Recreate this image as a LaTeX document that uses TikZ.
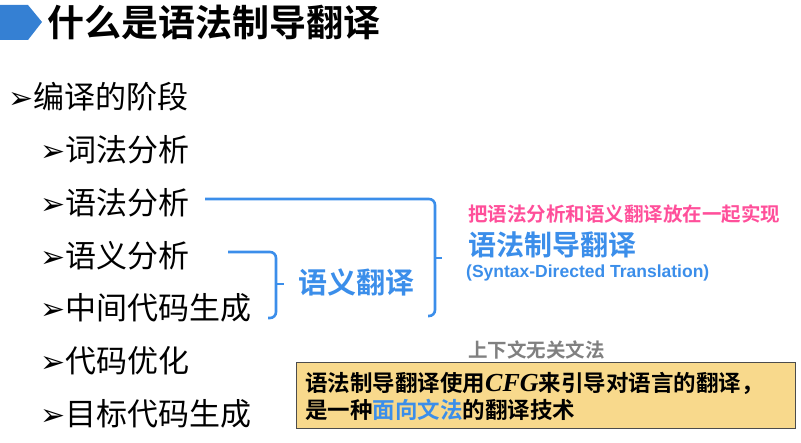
\documentclass[tikz,border=0pt]{standalone}
\usepackage{fontspec}
\setmainfont{Liberation Sans}
\newfontfamily\cjk{Noto Sans CJK SC}[BoldFont={* Bold}]
\newfontfamily\dv{DejaVu Sans}
\newfontfamily\tnr{Liberation Serif}
\definecolor{myblue}{HTML}{3B8EEA}
\definecolor{mypink}{HTML}{FF4F9A}
\definecolor{boxfill}{HTML}{F8D98C}
\tikzset{
  item/.style={anchor=west,inner sep=0pt,font=\cjk\fontsize{31}{31}\selectfont},
  brk/.style={myblue,line width=2.6pt,rounded corners=6pt},
}
\newcommand{\arr}{{\dv\bfseries\fontsize{30}{30}\selectfont ➢}}
\begin{document}
\begin{tikzpicture}[x=1pt,y=-1pt]
\useasboundingbox (0,0) rectangle (801,443);
% title icon
\fill[myblue!90!black] (0,5) -- (28,5) -- (42,22) -- (28,40) -- (0,40) -- cycle;
\node[anchor=west,inner sep=0pt,font=\cjk\bfseries\fontsize{37}{37}\selectfont] (title) at (47,22) {什么是语法制导翻译};
% list
\node[item] (l0) at (8,97) {\arr 编译的阶段};
\node[item] (l1) at (40,150) {\arr 词法分析};
\node[item] (l2) at (40,203) {\arr 语法分析};
\node[item] (l3) at (40,256) {\arr 语义分析};
\node[item] (l4) at (40,308) {\arr 中间代码生成};
\node[item] (l5) at (40,361) {\arr 代码优化};
\node[item] (l6) at (40,414) {\arr 目标代码生成};
% brackets
\coordinate (b1a) at (205,199);
\coordinate (b1b) at (428,316);
\draw[brk] (b1a) -- (435,199) -- (435,316) -- (b1b);
\draw[brk] (435,258) -- (442,258);
\coordinate (b2a) at (228,252);
\coordinate (b2b) at (268,318);
\draw[brk] (b2a) -- (276,252) -- (276,318) -- (b2b);
\draw[brk] (276,284) -- (284,284);
\node[anchor=west,inner sep=0pt,text=myblue,font=\cjk\bfseries\fontsize{29}{29}\selectfont] (sy) at (298,282) {语义翻译};
% right texts
\node[anchor=west,inner sep=0pt,text=mypink,font=\cjk\bfseries\fontsize{19.5}{19.5}\selectfont] (pk) at (468,214) {把语法分析和语义翻译放在一起实现};
\node[anchor=west,inner sep=0pt,text=myblue,font=\cjk\bfseries\fontsize{28}{28}\selectfont] (sdt) at (468,245) {语法制导翻译};
\node[anchor=west,inner sep=0pt,text=myblue,font=\bfseries\fontsize{17.5}{17.5}\selectfont] (en) at (466,273) {(Syntax-Directed Translation)};
\node[anchor=west,inner sep=0pt,text=gray,font=\cjk\bfseries\fontsize{19.5}{19.5}\selectfont] (cfg) at (468,350) {上下文无关文法};
% box
\draw[draw=black!70,fill=boxfill,line width=0.8pt] (296,362) rectangle (795,428);
\node[anchor=west,inner sep=0pt,font=\cjk\bfseries\fontsize{22.5}{22.5}\selectfont] (t1) at (305,383) {语法制导翻译使用{\tnr\bfseries\itshape\fontsize{26}{26}\selectfont CFG}来引导对语言的翻译，};
\node[anchor=west,inner sep=0pt,font=\cjk\bfseries\fontsize{22.5}{22.5}\selectfont] (t2) at (305,410) {是一种{\color{myblue}面向文法}的翻译技术};
\end{tikzpicture}
\end{document}
